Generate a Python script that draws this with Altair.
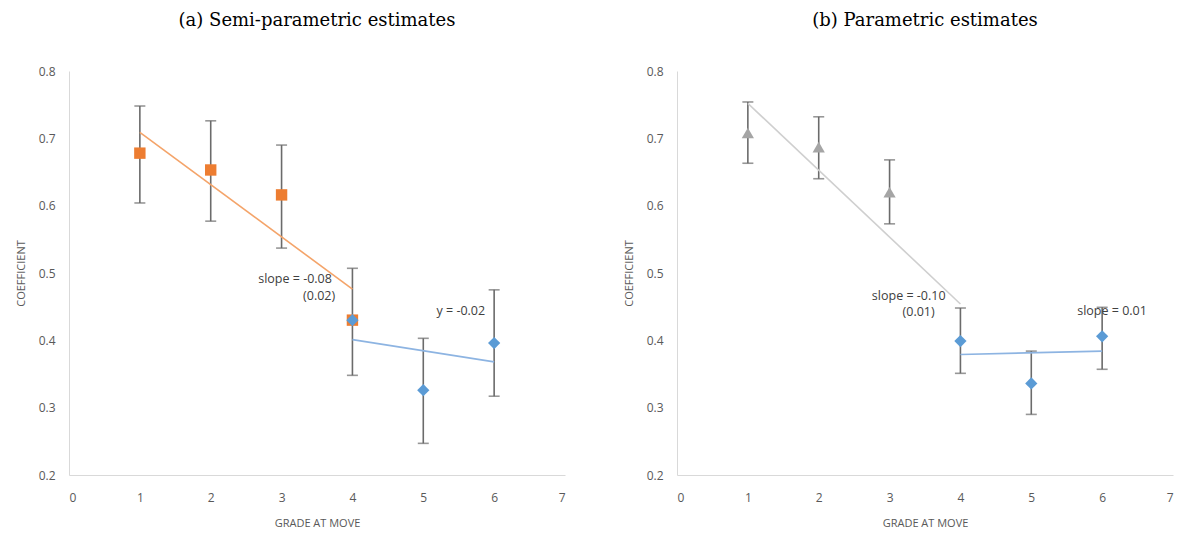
import altair as alt
import pandas as pd

# ---------------- data ----------------
grades = [1, 2, 3, 4, 5, 6]

# panel (a) semi-parametric
a_est = [0.678, 0.653, 0.616, 0.430, 0.326, 0.396]
a_lo = [0.604, 0.577, 0.537, 0.348, 0.247, 0.317]
a_hi = [0.748, 0.726, 0.690, 0.507, 0.403, 0.475]
a_early_grades = [1, 2, 3, 4]
a_late_grades = [4, 5, 6]
a_fit_early_x = [1, 4]
a_fit_early_y = [0.709, 0.476]
a_fit_late_x = [4, 6]
a_fit_late_y = [0.401, 0.368]
a_notes = ["slope = -0.08", "(0.02)", "y = -0.02"]
a_note_x = [3.19, 3.53, 5.53]
a_note_y = [0.491, 0.466, 0.443]

# panel (b) parametric
b_est = [0.708, 0.687, 0.620, 0.399, 0.336, 0.406]
b_lo = [0.663, 0.640, 0.573, 0.351, 0.290, 0.357]
b_hi = [0.754, 0.732, 0.668, 0.448, 0.384, 0.449]
b_early_grades = [1, 2, 3]
b_late_grades = [4, 5, 6]
b_fit_early_x = [1, 4]
b_fit_early_y = [0.752, 0.454]
b_fit_late_x = [4, 6]
b_fit_late_y = [0.379, 0.384]
b_notes = ["slope = -0.10", "(0.01)", "slope = 0.01"]
b_note_x = [3.27, 3.41, 6.14]
b_note_y = [0.466, 0.442, 0.443]

ORANGE = "#ED7D31"
BLUE = "#5B9BD5"
GRAY = "#A5A5A5"
ERR = "#6b6b6b"
W, H = 496, 404


def panel(title, est, lo, hi, early_g, late_g, early_shape, early_color,
          early_fill_line, fe_x, fe_y, fl_x, fl_y, notes, nx, ny, early_size):
    df = pd.DataFrame({"g": grades, "est": est, "lo": lo, "hi": hi})
    early = df[df.g.isin(early_g)]
    late = df[df.g.isin(late_g)]
    x_scale = alt.Scale(domain=[0, 7], nice=False)
    y_scale = alt.Scale(domain=[0.2, 0.8], nice=False, zero=False)
    x_axis = alt.Axis(values=[0, 1, 2, 3, 4, 5, 6, 7], format="d", title="GRADE AT MOVE",
                      grid=False, ticks=False, labelPadding=17, titlePadding=14,
                      domainColor="#d9d9d9")
    y_axis = alt.Axis(values=[0.2, 0.3, 0.4, 0.5, 0.6, 0.7, 0.8], format=".1f",
                      title="COEFFICIENT", grid=False, ticks=False,
                      labelPadding=14, titlePadding=12, domainColor="#d9d9d9")
    base = alt.Chart(df)
    rules = base.mark_rule(color=ERR, strokeWidth=1.6).encode(
        x=alt.X("g:Q", scale=x_scale, axis=x_axis),
        y=alt.Y("lo:Q", scale=y_scale, axis=y_axis),
        y2="hi:Q",
    )
    cap_hi = base.mark_tick(color=ERR, thickness=1.6, size=11, orient="horizontal").encode(
        x=alt.X("g:Q", scale=x_scale), y=alt.Y("hi:Q", scale=y_scale))
    cap_lo = base.mark_tick(color=ERR, thickness=1.6, size=11, orient="horizontal").encode(
        x=alt.X("g:Q", scale=x_scale), y=alt.Y("lo:Q", scale=y_scale))
    fe = pd.DataFrame({"x": fe_x, "y": fe_y})
    fl = pd.DataFrame({"x": fl_x, "y": fl_y})
    line_e = alt.Chart(fe).mark_line(color=early_fill_line, strokeWidth=1.6).encode(
        x=alt.X("x:Q", scale=x_scale), y=alt.Y("y:Q", scale=y_scale))
    line_l = alt.Chart(fl).mark_line(color="#8DB4E2", strokeWidth=1.6).encode(
        x=alt.X("x:Q", scale=x_scale), y=alt.Y("y:Q", scale=y_scale))
    pts_e = alt.Chart(early).mark_point(shape=early_shape, filled=True, opacity=1,
                                        color=early_color, size=early_size).encode(
        x=alt.X("g:Q", scale=x_scale), y=alt.Y("est:Q", scale=y_scale))
    pts_l = alt.Chart(late).mark_point(shape="diamond", filled=True, opacity=1,
                                       color=BLUE, size=150).encode(
        x=alt.X("g:Q", scale=x_scale), y=alt.Y("est:Q", scale=y_scale))
    nd = pd.DataFrame({"t": notes, "x": nx, "y": ny})
    txt = alt.Chart(nd).mark_text(font="Open Sans", fontSize=12.5, color="#404040",
                                  align="center").encode(
        x=alt.X("x:Q", scale=x_scale), y=alt.Y("y:Q", scale=y_scale), text="t:N")
    return alt.layer(rules, cap_hi, cap_lo, line_e, line_l, pts_e, pts_l, txt).properties(
        width=W, height=H,
        title=alt.TitleParams(title, font="DejaVu Serif", fontSize=18,
                              fontWeight="normal", color="#000000", anchor="middle",
                              offset=35),
    )


left = panel("(a) Semi-parametric estimates", a_est, a_lo, a_hi, a_early_grades,
             a_late_grades, "square", ORANGE, "#F4A46A", a_fit_early_x, a_fit_early_y,
             a_fit_late_x, a_fit_late_y, a_notes, a_note_x, a_note_y, 130)
right = panel("(b) Parametric estimates", b_est, b_lo, b_hi, b_early_grades,
              b_late_grades, "triangle-up", GRAY, "#CFCFCF", b_fit_early_x, b_fit_early_y,
              b_fit_late_x, b_fit_late_y, b_notes, b_note_x, b_note_y, 150)

chart = alt.hconcat(left, right, spacing=58).properties(
    padding={"left": 15, "top": 12, "right": 5, "bottom": 5}
).configure_view(stroke=None).configure_axis(
    labelFont="Open Sans", labelFontSize=12, labelColor="#595959",
    titleFont="Open Sans", titleFontSize=11, titleFontWeight="normal",
    titleColor="#595959",
)

chart.save("out.html", embed_options={"renderer": "svg", "actions": False})
